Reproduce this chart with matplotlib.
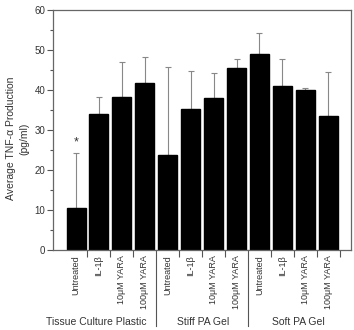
import matplotlib.pyplot as plt
import numpy as np
from matplotlib.ticker import MultipleLocator

plt.rcParams['font.family'] = ['Liberation Sans', 'DejaVu Sans']

treatments = ["Untreated", "IL-1β", "10μM YARA", "100μM YARA"] * 3
groups = ["Tissue Culture Plastic", "Stiff PA Gel", "Soft PA Gel"]
means = [10.4, 34.0, 38.3, 41.7, 23.8, 35.2, 38.1, 45.4, 49.0, 40.9, 40.0, 33.4]
errs = [13.8, 4.3, 8.6, 6.6, 22.0, 9.5, 6.2, 2.4, 5.2, 6.8, 0.6, 11.1]

txt = "#333333"
fig = plt.figure(figsize=(3.54, 3.30), dpi=100)
ax = fig.add_axes([0.150, 0.242, 0.842, 0.728])

x = np.arange(1, 13)
ax.bar(x, means, width=0.83, color="black", edgecolor="black", zorder=2)
ax.errorbar(x, means, yerr=[np.zeros(12), errs], fmt="none", ecolor="#888888",
            elinewidth=0.8, capsize=2, capthick=0.8, zorder=1)
ax.text(1, means[0] + errs[0] + 1.2, "*", ha="center", va="bottom", fontsize=9, color=txt)

ax.set_xlim(0, 13)
ax.set_ylim(0, 60)
ax.yaxis.set_major_locator(MultipleLocator(10))
ax.yaxis.set_minor_locator(MultipleLocator(5))
ax.tick_params(axis="y", which="major", length=4, width=0.8, labelsize=7, colors="#555555", labelcolor=txt, pad=1.5)
ax.tick_params(axis="y", which="minor", length=2.5, width=0.8, colors="#555555")

sep_ticks = [t + 0.5 for t in range(1, 13) if t not in (4, 8)]
ax.set_xticks(sep_ticks)
ax.set_xticklabels([])
ax.tick_params(axis="x", length=5, width=0.8, colors="#555555")

for xi, lab in zip(x, treatments):
    ax.text(xi, -1.2, lab, rotation=90, ha="center", va="top", fontsize=6.5, color=txt)

for sx in (4.5, 8.5):
    ax.plot([sx, sx], [0, -19], color="#555555", lw=0.8, clip_on=False)

for gx, g in zip([1.9, 6.55, 10.7], groups):
    ax.text(gx, -18.0, g, ha="center", va="center", fontsize=7.5, color=txt)

for s in ax.spines.values():
    s.set_color("#666666")
    s.set_linewidth(0.9)

fig.text(0.030, 0.58, "Average TNF-α Production", rotation=90, ha="center", va="center", fontsize=7.5, color=txt)
fig.text(0.068, 0.58, "(pg/ml)", rotation=90, ha="center", va="center", fontsize=7.5, color=txt)

fig.savefig("out.png", dpi=100)
